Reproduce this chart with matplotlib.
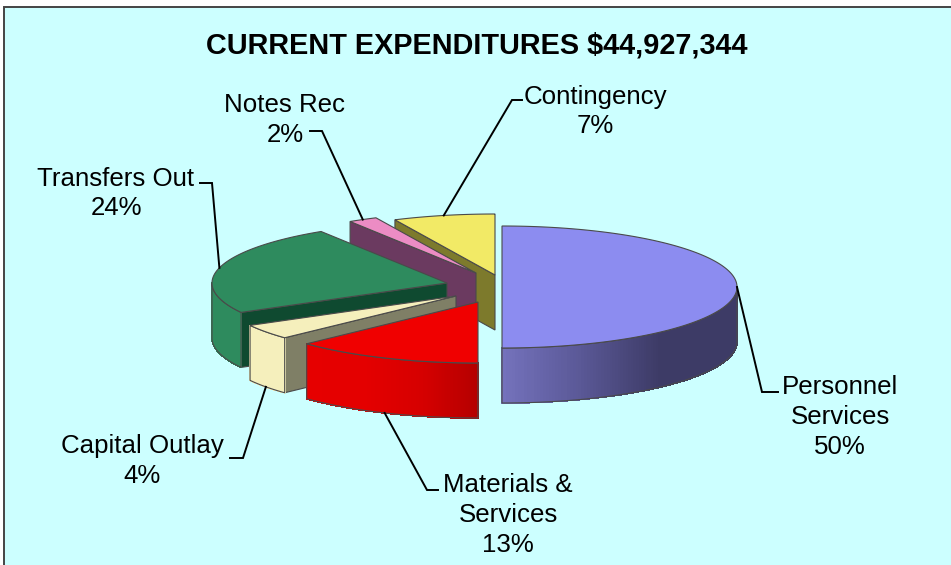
import numpy as np
import matplotlib
matplotlib.use('Agg')
import matplotlib.pyplot as plt
from matplotlib.patches import Polygon, Rectangle
from matplotlib.collections import PolyCollection
from matplotlib.colors import LinearSegmentedColormap

matplotlib.rcParams['font.family'] = ['Liberation Sans', 'DejaVu Sans']

title = 'CURRENT EXPENDITURES $44,927,344'
names = ['Personnel\nServices', 'Materials &\nServices', 'Capital Outlay', 'Transfers Out', 'Notes Rec', 'Contingency']
shares = [50, 13, 4, 24, 2, 7]

# layout, in picture pixels
W, H = 951, 565
rx, ry, depth = 235, 61, 55
apex = [(502, 287), (478, 302), (456, 296), (447, 283), (476, 273), (495, 275)]
top_colors = ['#8c8cf0', '#f00000', '#f5efbc', '#2e8b5e', '#ec8cc4', '#f2ea66']
cut_colors = ['#5c5aa0', '#c00000', '#7f7f66', '#0f4a30', '#6b3a60', '#7d7a2c']
wall_colors = [['#7472bc', '#5a5896', '#3d3b66', '#3d3b66'],
               ['#e60000', '#e40000', '#d60000', '#b40000'],
               ['#f5efbc', '#f5efbc'],
               ['#2e8b5e', '#2e8b5e'],
               ['#6b3a60', '#6b3a60'],
               ['#7d7a2c', '#7d7a2c']]
draw_order = [5, 4, 3, 0, 2, 1]
edge = '#4a4a4a'

# leader bend, leader end, label position
leaders = [((762, 392), (778, 392), (840, 417)),
           ((427, 490), (438, 490), (508, 515)),
           ((243, 458), (230, 458), (142, 461)),
           ((212, 183), (200, 183), (116, 193.5)),
           ((322, 131), (310, 131), (285, 120)),
           ((512, 100), (522, 100), (595, 111.5))]
leader_on_wall = [False, True, True, False, False, False]


def rim(center, deg):
    a = np.radians(deg)
    return np.column_stack((center[0] + rx * np.sin(a), center[1] - ry * np.cos(a)))


fig = plt.figure(figsize=(W / 100, H / 100), dpi=100, facecolor='white')
ax = fig.add_axes([0, 0, 1, 1])
ax.set_xlim(0, W)
ax.set_ylim(H, 0)
ax.axis('off')

ax.add_patch(Rectangle((3.5, 6.5), W, H, facecolor='#ccffff', edgecolor='#444444', linewidth=1.4))

ax.text(477, 45.5, title, ha='center', va='center', fontsize=20.8, fontweight='bold')

ends = np.cumsum(shares) * 3.6
starts = ends - np.array(shares) * 3.6

for i in draw_order:
    c = apex[i]
    a0, a1 = starts[i], ends[i]
    arc = rim(c, np.linspace(a0, a1, 181))

    # cut face under the edge that looks to the viewer
    if a0 > 180:
        p = rim(c, [a0])[0]
        ax.add_patch(Polygon([p, c, (c[0], c[1] + depth), (p[0], p[1] + depth)],
                             facecolor=cut_colors[i], edgecolor=edge, linewidth=0.8))

    # outer wall, only the part facing the viewer
    lo, hi = max(a0, 90), min(a1, 270)
    if lo < hi:
        wall = rim(c, np.linspace(lo, hi, 121))
        quads = [[wall[k], wall[k + 1], wall[k + 1] + [0, depth], wall[k] + [0, depth]]
                 for k in range(len(wall) - 1)]
        xm = (wall[:-1, 0] + wall[1:, 0]) / 2
        t = (xm - wall[:, 0].min()) / (wall[:, 0].max() - wall[:, 0].min())
        cmap = LinearSegmentedColormap.from_list('wall', wall_colors[i])
        ax.add_collection(PolyCollection(quads, facecolors=cmap(t), edgecolors=cmap(t),
                                         linewidths=0.6, antialiaseds=False))
        outline = np.vstack((wall, wall[::-1] + [0, depth]))
        ax.add_patch(Polygon(outline, fill=False, edgecolor=edge, linewidth=0.8))

    # top face
    ax.add_patch(Polygon(np.vstack((arc, c)), facecolor=top_colors[i], edgecolor=edge, linewidth=0.8))

# leaders and labels
for i in range(len(names)):
    c = apex[i]
    mid = (starts[i] + ends[i]) / 2
    p = rim(c, [mid])[0]
    if leader_on_wall[i]:
        p = p + [0, depth]
    bend, end, pos = leaders[i]
    ax.plot([p[0], bend[0], end[0]], [p[1], bend[1], end[1]], color='black', linewidth=1.4, solid_joinstyle='miter')
    ax.text(pos[0], pos[1], '%s\n%d%%' % (names[i], shares[i]), ha='center', va='center',
            fontsize=18.6, linespacing=1.3, color='black')

plt.savefig('out.png', dpi=100, facecolor=fig.get_facecolor())
plt.close()
